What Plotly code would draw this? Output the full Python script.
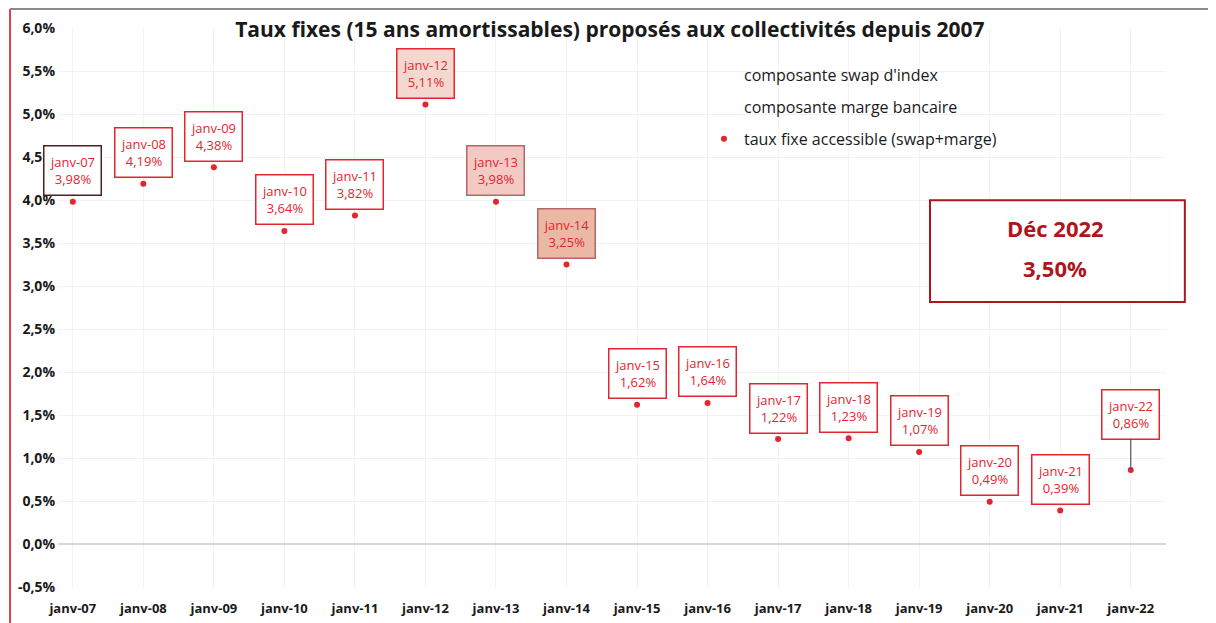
import plotly.graph_objects as go

# Taux fixes 15 ans amortissables proposés aux collectivités
mois = ["janv-07", "janv-08", "janv-09", "janv-10", "janv-11", "janv-12", "janv-13", "janv-14",
        "janv-15", "janv-16", "janv-17", "janv-18", "janv-19", "janv-20", "janv-21", "janv-22"]
taux_fixe = [3.98, 4.19, 4.38, 3.64, 3.82, 5.11, 3.98, 3.25,
             1.62, 1.64, 1.22, 1.23, 1.07, 0.49, 0.39, 0.86]
y_ticks = [-0.5, 0.0, 0.5, 1.0, 1.5, 2.0, 2.5, 3.0, 3.5, 4.0, 4.5, 5.0, 5.5, 6.0]
y_labels = [f"{v:.1f}%".replace(".", ",") for v in y_ticks]

RED = "#e2262f"
DARK_RED = "#b0151c"
FONT = "Open Sans, sans-serif"

# styles des étiquettes (fond, bordure) - quelques boîtes sont remplies
box_fill = {"janv-12": "#f4d8d0", "janv-13": "#f2cac3", "janv-14": "#eab8a4"}
box_border = {"janv-07": "#4a2024", "janv-13": "#b8646a", "janv-14": "#b8646a"}

fig = go.Figure()

fig.add_trace(go.Bar(
    name="composante swap d'index", x=mois, y=[None] * len(mois),
    marker=dict(color="rgba(0,0,0,0)", line=dict(width=0)), legendgroup="a",
))
fig.add_trace(go.Bar(
    name="composante marge bancaire", x=mois, y=[None] * len(mois),
    marker=dict(color="rgba(0,0,0,0)", line=dict(width=0)), legendgroup="b",
))
fig.add_trace(go.Scatter(
    name="taux fixe accessible (swap+marge)", x=mois, y=taux_fixe,
    mode="markers", marker=dict(size=6, color=RED), legendgroup="c",
))

annotations = []
for m, v in zip(mois, taux_fixe):
    label = f"{m}<br>{v:.2f}%".replace(".", ",")
    a = dict(
        x=m, y=v, xref="x", yref="y", text=label,
        font=dict(family=FONT, size=13, color=RED),
        bgcolor=box_fill.get(m, "white"),
        bordercolor=box_border.get(m, RED), borderwidth=1.5, borderpad=1,
        width=54, height=46, xanchor="center",
    )
    if m == "janv-22":
        a.update(showarrow=True, ax=0, ay=-56, arrowhead=0, arrowwidth=1.2,
                 arrowcolor="#555555")
    else:
        a.update(showarrow=False, yshift=31)
    annotations.append(a)

# encadré Déc 2022
annotations.append(dict(
    x=0.9, y=0.643, xref="paper", yref="paper", showarrow=False, xanchor="center",
    text="<b>Déc 2022</b>", font=dict(family=FONT, size=22, color=DARK_RED),
))
annotations.append(dict(
    x=0.9, y=0.571, xref="paper", yref="paper", showarrow=False, xanchor="center",
    text="<b>3,50%</b>", font=dict(family=FONT, size=22, color=DARK_RED),
))

shapes = [
    dict(type="rect", xref="paper", yref="paper", x0=0.787, x1=1.017, y0=0.51, y1=0.692,
         line=dict(color=DARK_RED, width=2), fillcolor="white", layer="above"),
    dict(type="line", xref="paper", yref="paper", x0=-0.0433, x1=-0.0433, y0=-0.07, y1=1.034,
         line=dict(color="#e0404a", width=2)),
    dict(type="line", xref="paper", yref="paper", x0=-0.0433, x1=1.05, y0=1.034, y1=1.034,
         line=dict(color="#8a8a8a", width=2)),
]

fig.update_layout(
    width=1216, height=623,
    paper_bgcolor="white", plot_bgcolor="white",
    font=dict(family=FONT, color="#1a1a1a"),
    margin=dict(l=50, r=58, t=20, b=44),
    title=dict(
        text="<b>Taux fixes (15 ans amortissables) proposés aux collectivités depuis 2007</b>",
        x=0.495, y=0.965, xanchor="center", yanchor="middle",
        font=dict(family=FONT, size=21, color="#1a1a1a"),
    ),
    showlegend=True,
    legend=dict(
        x=0.583, y=0.946, xanchor="left", yanchor="top",
        bgcolor="rgba(0,0,0,0)", font=dict(family=FONT, size=16, color="#1a1a1a"),
        traceorder="grouped", tracegroupgap=8,
    ),
    xaxis=dict(
        type="category", range=[-0.21, 15.5], automargin=False,
        showgrid=True, gridcolor="#f3f3f3",
        tickfont=dict(family=FONT, size=13, color="#1a1a1a", weight="bold"),
        ticks="", ticklabelstandoff=12, showline=False,
    ),
    yaxis=dict(
        range=[-0.5, 6.0], tickvals=y_ticks, ticktext=y_labels, automargin=False,
        showgrid=True, gridcolor="#f1f1f1",
        zeroline=True, zerolinecolor="#d8d8d8", zerolinewidth=1.5,
        tickfont=dict(family=FONT, size=14, color="#1a1a1a", weight="bold"),
        ticks="", ticklabelstandoff=2,
    ),
    annotations=annotations,
    shapes=shapes,
)

fig.write_html("out.html")
